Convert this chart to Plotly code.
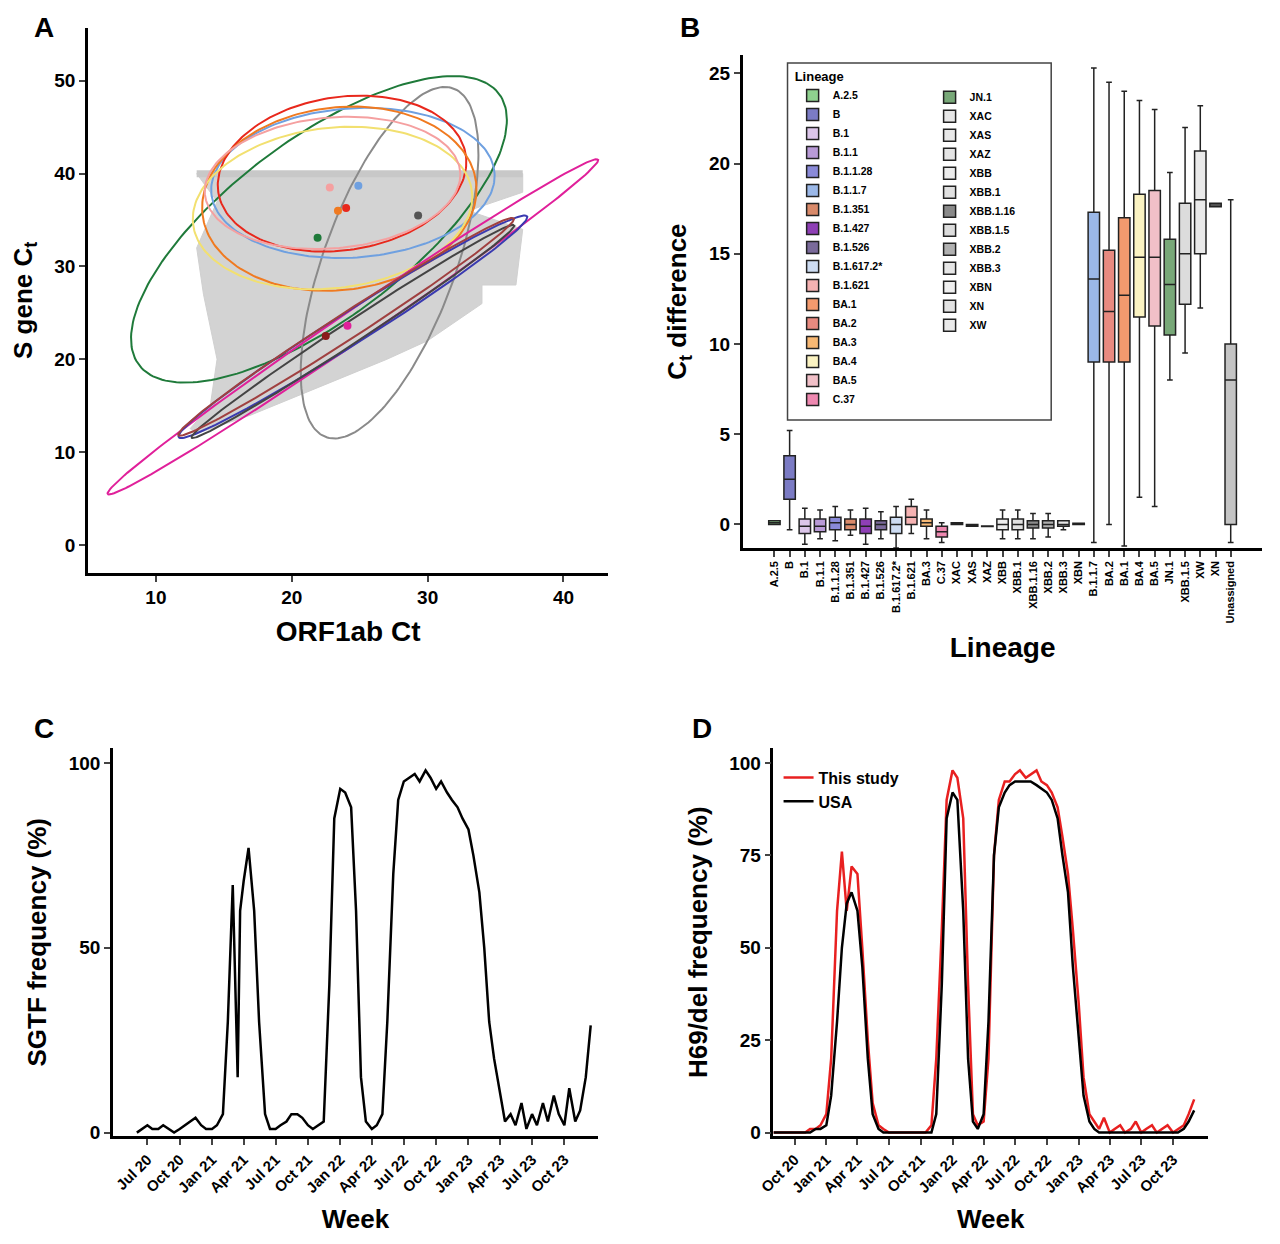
import numpy as np
import plotly.graph_objects as go

FONT = "Liberation Sans"
# ---------------- Panel A data ----------------
cloud_x = [12.5, 14, 14.5, 13.5, 13, 14.5, 13, 37, 37, 33, 37, 36.5, 34, 34, 30, 27, 22, 17, 13]
cloud_y = [12.5, 15, 20, 27, 32, 37, 40, 40, 38, 36, 34, 28, 28, 26, 22, 20, 17, 14, 12]
ell_cx = [22, 27.2, 24.5, 23.7, 23.5, 23, 23, 24.5, 24.5, 24.5, 24.0]
ell_cy = [34, 30.4, 39, 40, 37.3, 36.3, 39, 23.5, 23.5, 23.0, 23.5]
ell_a = [20, 19.4, 10.5, 9.5, 10.5, 10.5, 9.5, 25.5, 17.5, 16.5, 17]
ell_b = [8, 5, 8, 8, 9.5, 8.5, 7, 1.4, 1.5, 1.0, 1.2]
ell_ang = [52, 77, 10, 30, 40, 20, 12, 45, 43, 44, 43.5]
ell_col = ["#1f7a3a", "#8a8a8a", "#6fa0e0", "#e8281c", "#f07a20", "#f2e070", "#f5a0a0",
           "#e0209a", "#3a3ab0", "#444444", "#a04040"]
pt_x = [22.8, 24.9, 23.4, 24, 21.9, 29.3, 24.1, 22.5]
pt_y = [38.5, 38.7, 36, 36.3, 33.1, 35.5, 23.6, 22.5]
pt_col = ["#f5a0a0", "#6fa0e0", "#f07a20", "#e8281c", "#1f7a3a", "#555555", "#e0209a", "#8b1a1a"]

# ---------------- Panel B data ----------------
lineages = ["A.2.5", "B", "B.1", "B.1.1", "B.1.1.28", "B.1.1.7", "B.1.351", "B.1.427", "B.1.526",
            "B.1.617.2*", "B.1.621", "BA.1", "BA.2", "BA.3", "BA.4", "BA.5", "C.37",
            "JN.1", "XAC", "XAS", "XAZ", "XBB", "XBB.1", "XBB.1.16", "XBB.1.5", "XBB.2",
            "XBB.3", "XBN", "XN", "XW"]
lin_col = ["#8fd18f", "#7b7bc4", "#dcc6ea", "#b89ad6", "#8a8ad8", "#9bb8e8", "#d98a6a", "#8e3fb5",
           "#7a6a9a", "#cddcf2", "#f5b2b2", "#f39a6e", "#e88a80", "#f7b874", "#fbf3c2", "#f1c0c8",
           "#ee88b0", "#78a878", "#e6e6e6", "#e8e8e8", "#e4e4e4", "#ececec", "#e0e0e0", "#8a8a8a",
           "#dcdcdc", "#b0b0b0", "#e6e6e6", "#efefef", "#e2e2e2", "#eaeaea"]
q1 = [0, 1.4, -0.5, -0.4, -0.3, 9, -0.3, -0.5, -0.3, -0.5, 0, 9, 9, -0.1, 11.5, 11, -0.7,
      10.5, 0.0, -0.1, -0.12, -0.3, -0.3, -0.2, 12.2, -0.2, -0.1, 0.0, 17.6, 15]
med = [0.1, 2.5, -0.1, -0.1, 0.1, 13.6, 0, -0.1, 0, 0, 0.4, 12.7, 11.8, 0.1, 14.8, 14.8, -0.4,
       13.3, 0.05, -0.05, -0.1, 0, 0, 0, 15, 0, 0, 0.02, 17.7, 18]
q3 = [0.2, 3.8, 0.3, 0.3, 0.4, 17.3, 0.3, 0.3, 0.2, 0.4, 1.0, 17, 15.2, 0.3, 18.3, 18.5, -0.1,
      15.8, 0.1, 0.0, -0.08, 0.3, 0.3, 0.2, 17.8, 0.2, 0.2, 0.06, 17.8, 20.7]
lo = [0, -0.3, -1.1, -0.8, -0.9, -1, -0.6, -1.1, -0.8, -1.3, -0.5, -1.2, 0, -0.8, 1.5, 1, -1.0,
      8, 0.0, -0.1, -0.12, -0.8, -0.8, -0.8, 9.5, -0.7, -0.3, 0.0, 17.6, 12]
hi = [0.2, 5.2, 0.9, 0.8, 1.0, 25.3, 0.8, 0.9, 0.7, 1.0, 1.4, 24, 24.5, 0.8, 23.5, 23, 0.1,
      19.5, 0.1, 0.0, -0.08, 0.8, 0.8, 0.6, 22, 0.6, 0.2, 0.06, 17.8, 23.2]
x_order = ["A.2.5", "B", "B.1", "B.1.1", "B.1.1.28", "B.1.351", "B.1.427", "B.1.526", "B.1.617.2*",
           "B.1.621", "BA.3", "C.37", "XAC", "XAS", "XAZ", "XBB", "XBB.1", "XBB.1.16", "XBB.2",
           "XBB.3", "XBN", "B.1.1.7", "BA.2", "BA.1", "BA.4", "BA.5", "JN.1", "XBB.1.5", "XW",
           "XN", "Unassigned"]
un_stats = dict(q1=0, med=8, q3=10, lo=-1, hi=18)

# ---------------- Panel C data ----------------
c_dates = ["2020-06-01", "2020-06-15", "2020-07-01", "2020-07-15", "2020-08-01", "2020-08-15",
           "2020-09-01", "2020-09-15", "2020-10-01", "2020-10-15", "2020-11-01", "2020-11-15",
           "2020-12-01", "2020-12-15", "2021-01-01", "2021-01-15", "2021-02-01", "2021-02-15",
           "2021-03-01", "2021-03-08", "2021-03-15", "2021-03-22", "2021-04-01", "2021-04-15",
           "2021-05-01", "2021-05-15", "2021-06-01", "2021-06-15", "2021-07-01", "2021-07-15",
           "2021-08-01", "2021-08-15", "2021-09-01", "2021-09-15", "2021-10-01", "2021-10-15",
           "2021-11-01", "2021-11-15", "2021-12-01", "2021-12-15", "2022-01-01", "2022-01-15",
           "2022-02-01", "2022-02-15", "2022-03-01", "2022-03-15", "2022-04-01", "2022-04-15",
           "2022-05-01", "2022-05-15", "2022-06-01", "2022-06-15", "2022-07-01", "2022-07-15",
           "2022-08-01", "2022-08-15", "2022-09-01", "2022-09-15", "2022-10-01", "2022-10-15",
           "2022-11-01", "2022-11-15", "2022-12-01", "2022-12-15", "2023-01-01", "2023-01-15",
           "2023-02-01", "2023-02-15", "2023-03-01", "2023-03-15", "2023-04-01", "2023-04-15",
           "2023-05-01", "2023-05-15", "2023-06-01", "2023-06-15", "2023-07-01", "2023-07-15",
           "2023-08-01", "2023-08-15", "2023-09-01", "2023-09-15", "2023-10-01", "2023-10-15",
           "2023-11-01", "2023-11-15", "2023-12-01", "2023-12-15"]
c_vals = [0, 1, 2, 1, 1, 2, 1, 0, 1, 2, 3, 4, 2, 1, 1, 2, 5, 30, 67, 40, 15, 60, 68, 77,
          60, 30, 5, 1, 1, 2, 3, 5, 5, 4, 2, 1, 2, 3, 40, 85, 93, 92, 88, 60, 15, 3, 1, 2,
          5, 30, 70, 90, 95, 96, 97, 95, 98, 96, 93, 95, 92, 90, 88, 85, 82, 75, 65, 50,
          30, 20, 10, 3, 5, 2, 8, 1, 5, 2, 8, 3, 10, 5, 2, 12, 3, 6, 15, 29]
c_ticks = ["2020-07-01", "2020-10-01", "2021-01-01", "2021-04-01", "2021-07-01", "2021-10-01",
           "2022-01-01", "2022-04-01", "2022-07-01", "2022-10-01", "2023-01-01", "2023-04-01",
           "2023-07-01", "2023-10-01"]
c_ticklabels = ["Jul 20", "Oct 20", "Jan 21", "Apr 21", "Jul 21", "Oct 21", "Jan 22", "Apr 22",
                "Jul 22", "Oct 22", "Jan 23", "Apr 23", "Jul 23", "Oct 23"]

# ---------------- Panel D data ----------------
d_dates = ["2020-08-01", "2020-08-15", "2020-09-01", "2020-09-15", "2020-10-01", "2020-10-15",
           "2020-11-01", "2020-11-15", "2020-12-01", "2020-12-15", "2021-01-01", "2021-01-15",
           "2021-02-01", "2021-02-15", "2021-03-01", "2021-03-15", "2021-04-01", "2021-04-15",
           "2021-05-01", "2021-05-15", "2021-06-01", "2021-06-15", "2021-07-01", "2021-07-15",
           "2021-08-01", "2021-08-15", "2021-09-01", "2021-09-15", "2021-10-01", "2021-10-15",
           "2021-11-01", "2021-11-15", "2021-12-01", "2021-12-15", "2022-01-01", "2022-01-15",
           "2022-02-01", "2022-02-15", "2022-03-01", "2022-03-15", "2022-04-01", "2022-04-15",
           "2022-05-01", "2022-05-15", "2022-06-01", "2022-06-15", "2022-07-01", "2022-07-15",
           "2022-08-01", "2022-08-15", "2022-09-01", "2022-09-15", "2022-10-01", "2022-10-15",
           "2022-11-01", "2022-11-15", "2022-12-01", "2022-12-15", "2023-01-01", "2023-01-15",
           "2023-02-01", "2023-02-15", "2023-03-01", "2023-03-15", "2023-04-01", "2023-04-15",
           "2023-05-01", "2023-05-15", "2023-06-01", "2023-06-15", "2023-07-01", "2023-07-15",
           "2023-08-01", "2023-08-15", "2023-09-01", "2023-09-15", "2023-10-01", "2023-10-15",
           "2023-11-01", "2023-11-15", "2023-12-01"]
d_study = [0, 0, 0, 0, 0, 0, 0, 1, 1, 2, 5, 20, 60, 76, 60, 72, 70, 50, 25, 8, 2, 1, 0, 0,
           0, 0, 0, 0, 0, 0, 2, 20, 55, 90, 98, 96, 85, 40, 5, 2, 3, 20, 75, 90, 95, 95, 97,
           98, 96, 97, 98, 95, 94, 92, 88, 80, 70, 55, 35, 15, 5, 3, 1, 4, 0, 1, 2, 0, 1, 3,
           0, 1, 2, 0, 1, 2, 0, 1, 2, 5, 9]
d_usa = [0, 0, 0, 0, 0, 0, 0, 0, 1, 1, 2, 10, 30, 50, 62, 65, 60, 45, 20, 5, 1, 0, 0, 0,
         0, 0, 0, 0, 0, 0, 0, 5, 40, 85, 92, 90, 60, 20, 3, 1, 5, 30, 75, 88, 92, 94, 95,
         95, 95, 95, 94, 93, 92, 90, 85, 75, 65, 45, 25, 10, 3, 1, 0, 0, 0, 0, 0, 0, 0, 0,
         0, 0, 0, 0, 0, 0, 0, 0, 1, 3, 6]
d_ticks = c_ticks[1:]
d_ticklabels = c_ticklabels[1:]

# ---------------- Build figure ----------------
fig = go.Figure()
bold = dict(family=FONT, color="black", weight="bold")

# Panel A
fig.add_trace(go.Scatter(x=cloud_x, y=cloud_y, fill="toself", mode="lines",
                         line=dict(color="#d0d0d0", width=1), fillcolor="#d3d3d3",
                         showlegend=False, xaxis="x", yaxis="y", hoverinfo="skip"))
fig.add_trace(go.Scatter(x=[13, 37], y=[40, 40], mode="lines", line=dict(color="#c8c8c8", width=7),
                         showlegend=False, xaxis="x", yaxis="y"))
t = np.linspace(0, 2 * np.pi, 200)
for cx, cy, a, b, ang, col in zip(ell_cx, ell_cy, ell_a, ell_b, ell_ang, ell_col):
    th = np.deg2rad(ang)
    ex = cx + a * np.cos(t) * np.cos(th) - b * np.sin(t) * np.sin(th)
    ey = cy + a * np.cos(t) * np.sin(th) + b * np.sin(t) * np.cos(th)
    fig.add_trace(go.Scatter(x=ex, y=ey, mode="lines", line=dict(color=col, width=2),
                             showlegend=False, xaxis="x", yaxis="y"))
fig.add_trace(go.Scatter(x=pt_x, y=pt_y, mode="markers", marker=dict(color=pt_col, size=8),
                         showlegend=False, xaxis="x", yaxis="y"))

# Panel B
n_left = 17
for i, (name, col) in enumerate(zip(lineages, lin_col)):
    fig.add_trace(go.Box(x=[name], q1=[q1[i]], median=[med[i]], q3=[q3[i]],
                         lowerfence=[lo[i]], upperfence=[hi[i]], name=name,
                         fillcolor=col, line=dict(color="#222222", width=1.5), width=0.75,
                         legend="legend" if i < n_left else "legend2",
                         xaxis="x2", yaxis="y2", hoverinfo="skip"))
fig.add_trace(go.Box(x=["Unassigned"], q1=[un_stats["q1"]], median=[un_stats["med"]],
                     q3=[un_stats["q3"]], lowerfence=[un_stats["lo"]], upperfence=[un_stats["hi"]],
                     name="Unassigned", fillcolor="#c4c4c4", line=dict(color="#222222", width=1.5),
                     width=0.75, showlegend=False, xaxis="x2", yaxis="y2"))

# Panel C
fig.add_trace(go.Scatter(x=c_dates, y=c_vals, mode="lines", line=dict(color="black", width=2.5),
                         showlegend=False, xaxis="x3", yaxis="y3"))
# Panel D
fig.add_trace(go.Scatter(x=d_dates, y=d_study, mode="lines", name="This study",
                         line=dict(color="#e82020", width=2.5), legend="legend3",
                         xaxis="x4", yaxis="y4"))
fig.add_trace(go.Scatter(x=d_dates, y=d_usa, mode="lines", name="USA",
                         line=dict(color="black", width=2.5), legend="legend3",
                         xaxis="x4", yaxis="y4"))

ax = dict(showline=True, linecolor="black", linewidth=2.5, ticks="outside", ticklen=6,
          tickwidth=2, showgrid=False, zeroline=False, tickfont=dict(size=19, **bold),
          automargin=False)

def ttl(txt, size=26):
    return dict(text=txt, font=dict(size=size, **bold))

fig.update_layout(
    width=1280, height=1244, margin=dict(l=0, r=0, t=0, b=0, autoexpand=False),
    plot_bgcolor="white", paper_bgcolor="white",
    xaxis=dict(ax, domain=[0.0625, 0.469], range=[5, 43.3], tickvals=[10, 20, 30, 40],
               title=ttl("ORF1ab Ct", 28), anchor="y"),
    yaxis=dict(ax, domain=[0.546, 0.984], range=[-3, 55.7], tickvals=[0, 10, 20, 30, 40, 50],
               title=ttl("S gene C<sub>t</sub>"), anchor="x"),
    xaxis2=dict(ax, domain=[0.574, 0.98], categoryorder="array", categoryarray=x_order,
                tickangle=-90, tickfont=dict(size=11, **bold), anchor="y2",
                title=ttl("Lineage", 28)),
    yaxis2=dict(ax, domain=[0.566, 0.962], range=[-1.3, 26], tickvals=[0, 5, 10, 15, 20, 25],
                title=ttl("C<sub>t</sub> difference"), anchor="x2"),
    xaxis3=dict(ax, domain=[0.082, 0.461], range=["2020-03-25", "2024-01-05"],
                tickvals=c_ticks, ticktext=c_ticklabels, tickangle=-45,
                tickfont=dict(size=15, **bold), title=ttl("Week"), anchor="y3"),
    yaxis3=dict(ax, domain=[0.093, 0.405], range=[-1, 104], tickvals=[0, 50, 100],
                title=ttl("SGTF frequency (%)"), anchor="x3"),
    xaxis4=dict(ax, domain=[0.598, 0.9375], range=["2020-08-01", "2024-01-10"],
                tickvals=d_ticks, ticktext=d_ticklabels, tickangle=-45,
                tickfont=dict(size=15, **bold), title=ttl("Week"), anchor="y4"),
    yaxis4=dict(ax, domain=[0.093, 0.405], range=[-1, 104], tickvals=[0, 25, 50, 75, 100],
                title=ttl("H69/del frequency (%)"), anchor="x4"),
    legend=dict(x=0.613, y=0.955, xanchor="left", yanchor="top", tracegroupgap=0,
                font=dict(size=10.5, **bold), title=dict(text="Lineage", font=dict(size=13, **bold)),
                bgcolor="rgba(0,0,0,0)", itemwidth=30),
    legend2=dict(x=0.72, y=0.94, xanchor="left", yanchor="top", tracegroupgap=0,
                 font=dict(size=10.5, **bold), bgcolor="rgba(0,0,0,0)", itemwidth=30),
    legend3=dict(x=0.602, y=0.395, xanchor="left", yanchor="top",
                 font=dict(size=16, **bold), bgcolor="rgba(0,0,0,0)"),
    shapes=[dict(type="rect", xref="paper", yref="paper", x0=0.609, x1=0.815,
                 y0=1 - 412 / 1244, y1=1 - 55 / 1244, line=dict(color="#444", width=1.5))],
    annotations=[
        dict(text="A", x=0.028, y=0.998, xref="paper", yref="paper", showarrow=False,
             font=dict(size=28, **bold), xanchor="center", yanchor="top"),
        dict(text="B", x=0.533, y=0.998, xref="paper", yref="paper", showarrow=False,
             font=dict(size=28, **bold), xanchor="center", yanchor="top"),
        dict(text="C", x=0.028, y=0.435, xref="paper", yref="paper", showarrow=False,
             font=dict(size=28, **bold), xanchor="center", yanchor="top"),
        dict(text="D", x=0.542, y=0.435, xref="paper", yref="paper", showarrow=False,
             font=dict(size=28, **bold), xanchor="center", yanchor="top"),
    ],
)
fig.write_html("out.html")
